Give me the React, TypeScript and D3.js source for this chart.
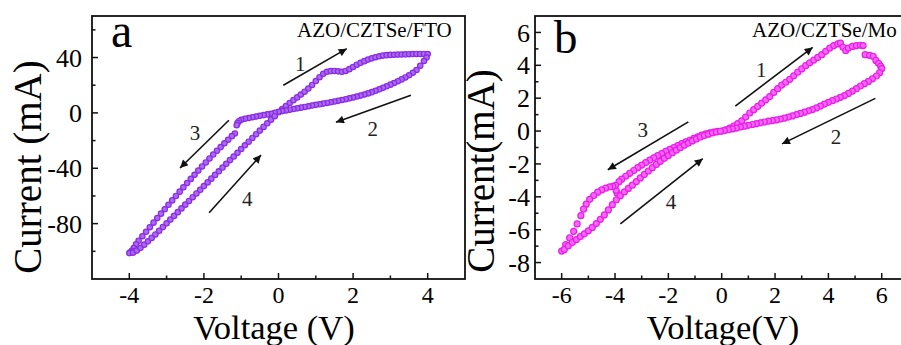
import React from 'react';
import * as d3 from 'd3';

type Pt = [number, number];

// ---- panel a: AZO/CZTSe/FTO (V, mA) ----
const aSweep1: Pt[] = [
  [0, 0.5], [0.1, 2.8], [0.2, 5.0], [0.3, 7.2], [0.4, 9.2], [0.5, 11.2], [0.6, 13.3], [0.7, 15.3],
  [0.8, 17.6], [0.9, 20.2], [1.0, 23.0], [1.1, 25.8], [1.2, 28.2], [1.3, 29.7], [1.4, 30.2], [1.5, 30.3],
  [1.6, 30.0], [1.7, 29.7], [1.8, 30.3], [1.9, 31.6], [2.0, 33.2], [2.1, 34.8], [2.2, 36.2], [2.3, 37.4],
  [2.4, 38.5], [2.5, 39.4], [2.6, 40.2], [2.7, 40.9], [2.8, 41.4], [2.9, 41.7], [3.0, 41.9], [3.1, 42.0],
  [3.2, 42.1], [3.3, 42.2], [3.4, 42.3], [3.5, 42.4], [3.6, 42.5], [3.7, 42.6], [3.8, 42.6], [3.9, 42.6],
  [4.0, 42.5],
];
const aSweep2: Pt[] = [
  [3.97, 40.0], [3.9, 37.5], [3.8, 34.0], [3.7, 31.0], [3.6, 29.0], [3.5, 27.2], [3.4, 25.6], [3.3, 24.2],
  [3.2, 22.9], [3.1, 21.6], [3.0, 20.4], [2.9, 19.2], [2.8, 18.1], [2.7, 17.0], [2.6, 16.0], [2.5, 15.0],
  [2.4, 14.1], [2.3, 13.3], [2.2, 12.5], [2.1, 11.8], [2.0, 11.1], [1.9, 10.5], [1.8, 9.9], [1.7, 9.3],
  [1.6, 8.7], [1.5, 8.2], [1.4, 7.7], [1.3, 7.2], [1.2, 6.7], [1.1, 6.2], [1.0, 5.8], [0.9, 5.3],
  [0.8, 4.8], [0.7, 4.3], [0.6, 3.8], [0.5, 3.3], [0.4, 2.8], [0.3, 2.3], [0.2, 1.8], [0.1, 1.3], [0, 0.8],
];
const aSweep3: Pt[] = [
  [-0.1, 0.0], [-0.2, -0.6], [-0.3, -1.1], [-0.4, -1.6], [-0.5, -2.1], [-0.6, -2.6], [-0.7, -3.1],
  [-0.8, -3.7], [-0.9, -4.3], [-1.0, -5.0], [-1.06, -6.0], [-1.1, -7.4], [-1.12, -8.9],
  [-1.17, -14.9], [-1.25, -16.8], [-1.35, -19.4], [-1.45, -22.0], [-1.55, -24.7], [-1.65, -27.4],
  [-1.75, -30.1], [-1.85, -32.9], [-1.95, -35.8], [-2.05, -38.7], [-2.15, -41.7], [-2.25, -44.7],
  [-2.35, -47.7], [-2.45, -50.7], [-2.55, -53.8], [-2.65, -56.9], [-2.75, -60.0], [-2.85, -63.2],
  [-2.95, -66.4], [-3.05, -69.6], [-3.15, -72.8], [-3.25, -76.0], [-3.35, -79.3], [-3.45, -82.6],
  [-3.55, -85.9], [-3.65, -89.1], [-3.75, -92.4], [-3.82, -95.0], [-3.88, -97.6], [-3.93, -99.6],
  [-3.97, -100.8], [-4.0, -101.3],
];
const aSweep4: Pt[] = [
  [-3.9, -101.0], [-3.8, -99.5], [-3.7, -97.5], [-3.6, -95.2], [-3.5, -92.8], [-3.4, -90.3], [-3.3, -87.8],
  [-3.2, -85.2], [-3.1, -82.5], [-3.0, -79.8], [-2.9, -77.1], [-2.8, -74.4], [-2.7, -71.7], [-2.6, -69.0],
  [-2.5, -66.3], [-2.4, -63.6], [-2.3, -60.9], [-2.2, -58.2], [-2.1, -55.6], [-2.0, -52.9], [-1.9, -50.2],
  [-1.8, -47.5], [-1.7, -44.8], [-1.6, -42.2], [-1.5, -39.5], [-1.4, -36.8], [-1.3, -34.1], [-1.2, -31.5],
  [-1.1, -28.8], [-1.0, -26.1], [-0.9, -23.4], [-0.8, -20.8], [-0.7, -18.1], [-0.6, -15.4], [-0.5, -12.8],
  [-0.4, -10.1], [-0.3, -7.5], [-0.2, -4.9], [-0.1, -2.4],
];
const aXTicks = [-4, -2, 0, 2, 4];
const aXMinor = [-3, -1, 1, 3];
const aYTicks = [40, 0, -40, -80];
const aYMinor = [60, 20, -20, -60, -100];
const aArrows = [
  { from: [0.13, 20] as Pt, to: [1.83, 46.4] as Pt, label: '1', at: [0.58, 35.8] as Pt },
  { from: [3.55, 12.8] as Pt, to: [1.54, -6.8] as Pt, label: '2', at: [2.53, -11.7] as Pt },
  { from: [-1.33, -5.3] as Pt, to: [-2.64, -39.8] as Pt, label: '3', at: [-2.24, -14.6] as Pt },
  { from: [-1.86, -72.2] as Pt, to: [-0.47, -30.5] as Pt, label: '4', at: [-0.84, -62.2] as Pt },
];

// ---- panel b: AZO/CZTSe/Mo (V, mA) ----
const bSweep1: Pt[] = [
  [0, 0], [0.15, 0.08], [0.3, 0.18], [0.45, 0.3], [0.6, 0.45], [0.75, 0.62], [0.9, 0.85], [1.05, 1.1],
  [1.2, 1.3], [1.35, 1.5], [1.5, 1.7], [1.65, 1.9], [1.8, 2.1], [1.95, 2.35], [2.1, 2.58], [2.25, 2.8],
  [2.4, 2.97], [2.55, 3.15], [2.7, 3.36], [2.85, 3.58], [3.0, 3.78], [3.15, 3.98], [3.3, 4.15], [3.45, 4.32],
  [3.6, 4.48], [3.75, 4.65], [3.9, 4.85], [4.05, 5.05], [4.2, 5.2], [4.35, 5.3], [4.45, 5.35], [4.55, 5.1],
  [4.65, 4.9], [4.75, 5.05], [4.9, 5.15], [5.05, 5.2], [5.2, 5.22], [5.3, 5.2], [5.38, 4.65], [5.55, 4.6],
  [5.68, 4.55], [5.78, 4.3], [5.88, 4.12], [5.96, 3.95], [6.0, 3.8],
];
const bSweep2: Pt[] = [
  [5.92, 3.55], [5.8, 3.35], [5.65, 3.18], [5.5, 3.02], [5.35, 2.88], [5.2, 2.74], [5.05, 2.58], [4.9, 2.43],
  [4.75, 2.29], [4.6, 2.16], [4.45, 2.05], [4.3, 1.95], [4.15, 1.85], [4.0, 1.75], [3.85, 1.64], [3.7, 1.52],
  [3.55, 1.41], [3.4, 1.31], [3.25, 1.23], [3.1, 1.15], [2.95, 1.07], [2.8, 1.0], [2.65, 0.92], [2.5, 0.85],
  [2.35, 0.79], [2.2, 0.73], [2.05, 0.68], [1.9, 0.64], [1.75, 0.6], [1.6, 0.55], [1.45, 0.5], [1.3, 0.45],
  [1.15, 0.4], [1.0, 0.35], [0.85, 0.3], [0.7, 0.24], [0.55, 0.18], [0.4, 0.13], [0.25, 0.08], [0.1, 0.03],
];
const bSweep3: Pt[] = [
  [-0.15, -0.02], [-0.3, -0.06], [-0.45, -0.11], [-0.6, -0.17], [-0.75, -0.25], [-0.9, -0.35], [-1.05, -0.45],
  [-1.2, -0.56], [-1.35, -0.66], [-1.5, -0.77], [-1.65, -0.88], [-1.8, -1.0], [-1.95, -1.12], [-2.1, -1.24],
  [-2.25, -1.37], [-2.4, -1.5], [-2.55, -1.63], [-2.7, -1.77], [-2.85, -1.92], [-3.0, -2.07], [-3.15, -2.23],
  [-3.3, -2.4], [-3.45, -2.57], [-3.6, -2.75], [-3.75, -2.93], [-3.85, -3.08], [-3.92, -3.78], [-3.96, -3.6],
  [-3.98, -3.3], [-4.08, -3.36], [-4.2, -3.4], [-4.35, -3.47], [-4.5, -3.58], [-4.65, -3.72], [-4.8, -3.92],
  [-4.95, -4.15], [-5.08, -4.45], [-5.18, -4.75], [-5.28, -5.15], [-5.42, -5.65], [-5.55, -6.1], [-5.7, -6.5],
  [-5.85, -6.9], [-6.0, -7.3],
];
const bSweep4: Pt[] = [
  [-5.9, -7.2], [-5.75, -6.98], [-5.6, -6.78], [-5.45, -6.6], [-5.3, -6.42], [-5.15, -6.25], [-5.0, -6.07],
  [-4.85, -5.86], [-4.7, -5.63], [-4.55, -5.37], [-4.4, -5.1], [-4.25, -4.8], [-4.1, -4.48], [-3.95, -4.18],
  [-3.8, -3.93], [-3.65, -3.7], [-3.5, -3.49], [-3.35, -3.29], [-3.2, -3.07], [-3.05, -2.85], [-2.9, -2.64],
  [-2.75, -2.43], [-2.6, -2.23], [-2.45, -2.03], [-2.3, -1.84], [-2.15, -1.66], [-2.0, -1.49], [-1.85, -1.32],
  [-1.7, -1.16], [-1.55, -1.01], [-1.4, -0.86], [-1.25, -0.73], [-1.1, -0.6], [-0.95, -0.48], [-0.8, -0.36],
  [-0.65, -0.27], [-0.5, -0.19], [-0.35, -0.11], [-0.2, -0.05], [-0.05, -0.01],
];
const bXTicks = [-6, -4, -2, 0, 2, 4, 6];
const bXMinor = [-5, -3, -1, 1, 3, 5];
const bYTicks = [6, 4, 2, 0, -2, -4, -6, -8];
const bYMinor = [5, 3, 1, -1, -3, -5, -7];
const bArrows = [
  { from: [0.51, 1.52] as Pt, to: [3.41, 5.09] as Pt, label: '1', at: [1.48, 3.76] as Pt },
  { from: [5.76, 1.99] as Pt, to: [2.26, -0.78] as Pt, label: '2', at: [4.29, -0.32] as Pt },
  { from: [-1.25, 0.56] as Pt, to: [-4.27, -2.35] as Pt, label: '3', at: [-2.96, 0.09] as Pt },
  { from: [-3.8, -5.65] as Pt, to: [-0.71, -1.68] as Pt, label: '4', at: [-1.9, -4.29] as Pt },
];

const FONT = '"Liberation Serif", "Times New Roman", serif';

interface PanelProps {
  left: number; right: number; top: number; bottom: number;
  xDomain: [number, number]; yDomain: [number, number];
  xTicks: number[]; xMinor: number[]; yTicks: number[]; yMinor: number[];
  sweeps: Pt[][]; stroke: string; fill: string; r: number;
  arrows: { from: Pt; to: Pt; label: string; at: Pt }[];
  letter: string; letterX: number; letterY: number; letterSize: number;
  title: string; titleX: number;
  yLabel: string; yLabelX: number; yLabelY: number; yTickGap: number;
  xLabel: string; xLabelX: number;
}

function Panel(p: PanelProps) {
  const x = d3.scaleLinear().domain(p.xDomain).range([p.left, p.right]);
  const y = d3.scaleLinear().domain(p.yDomain).range([p.bottom, p.top]);
  const fmt = (t: number) => (t < 0 ? '-' + Math.abs(t) : String(t));
  return (
    <g fontFamily={FONT}>
      {p.sweeps.map((s, si) => (
        <g key={si}>
          {s.map((d, i) => (
            <circle key={i} cx={x(d[0])} cy={y(d[1])} r={p.r} fill={p.fill} stroke={p.stroke} strokeWidth={1.2} />
          ))}
        </g>
      ))}
      <rect x={p.left} y={p.top} width={p.right - p.left} height={p.bottom - p.top} fill="none" stroke="#111" strokeWidth={1.8} />
      {p.xTicks.map(t => (
        <g key={'xt' + t}>
          <line x1={x(t)} x2={x(t)} y1={p.bottom} y2={p.bottom - 6} stroke="#111" strokeWidth={1.5} />
          <text x={x(t)} y={p.bottom + 23.5} textAnchor="middle" fontSize={24}>{fmt(t)}</text>
        </g>
      ))}
      {p.xMinor.map(t => (
        <line key={'xm' + t} x1={x(t)} x2={x(t)} y1={p.bottom} y2={p.bottom - 3.5} stroke="#111" strokeWidth={1.5} />
      ))}
      {p.yTicks.map(t => (
        <g key={'yt' + t}>
          <line x1={p.left} x2={p.left + 6} y1={y(t)} y2={y(t)} stroke="#111" strokeWidth={1.5} />
          <text x={p.left - p.yTickGap} y={y(t)} dy="0.35em" textAnchor="end" fontSize={26}>{fmt(t)}</text>
        </g>
      ))}
      {p.yMinor.map(t => (
        <line key={'ym' + t} x1={p.left} x2={p.left + 3.5} y1={y(t)} y2={y(t)} stroke="#111" strokeWidth={1.5} />
      ))}
      {p.arrows.map(a => (
        <g key={a.label}>
          <line x1={x(a.from[0])} y1={y(a.from[1])} x2={x(a.to[0])} y2={y(a.to[1])} stroke="#111" strokeWidth={1.6} markerEnd="url(#head)" />
          <text x={x(a.at[0])} y={y(a.at[1])} dy="0.35em" textAnchor="middle" fontSize={21} fill="#222">{a.label}</text>
        </g>
      ))}
      <text x={p.letterX} y={p.letterY} fontSize={p.letterSize}>{p.letter}</text>
      <text x={p.titleX} y={37} fontSize={21}>{p.title}</text>
      <text transform={`translate(${p.yLabelX},${p.yLabelY}) rotate(-90)`} textAnchor="middle" fontSize={39}>{p.yLabel}</text>
      <text x={p.xLabelX} y={339} textAnchor="middle" fontSize={34.5}>{p.xLabel}</text>
    </g>
  );
}

export default function App() {
  return (
    <svg width={901} height={345} style={{ position: 'absolute', left: 0, top: 0, background: '#fff' }}>
      <defs>
        <marker id="head" viewBox="0 0 10 10" refX={10} refY={5} markerWidth={10} markerHeight={8} markerUnits="userSpaceOnUse" orient="auto">
          <path d="M0,0 L10,5 L0,10 z" fill="#111" />
        </marker>
      </defs>
      <rect width={901} height={345} fill="#fff" />
      <Panel
        left={92} right={465} top={16} bottom={279}
        xDomain={[-5, 5]} yDomain={[-120, 70]}
        xTicks={aXTicks} xMinor={aXMinor} yTicks={aYTicks} yMinor={aYMinor}
        sweeps={[aSweep1, aSweep2, aSweep3, aSweep4]} stroke="#8a2be2" fill="#a969f0" r={2.7}
        arrows={aArrows}
        letter="a" letterX={111} letterY={47} letterSize={48}
        title="AZO/CZTSe/FTO" titleX={297}
        yLabel="Current (mA)" yLabelX={41} yLabelY={167} yTickGap={10}
        xLabel="Voltage (V)" xLabelX={274}
      />
      <Panel
        left={535} right={908.4} top={16} bottom={279}
        xDomain={[-7, 7]} yDomain={[-9, 7]}
        xTicks={bXTicks} xMinor={bXMinor} yTicks={bYTicks} yMinor={bYMinor}
        sweeps={[bSweep1, bSweep2, bSweep3, bSweep4]} stroke="#e81ee8" fill="#f766f7" r={3}
        arrows={bArrows}
        letter="b" letterX={554} letterY={53} letterSize={47}
        title="AZO/CZTSe/Mo" titleX={752}
        yLabel="Current(mA)" yLabelX={494} yLabelY={171} yTickGap={5}
        xLabel="Voltage(V)" xLabelX={723}
      />
    </svg>
  );
}
